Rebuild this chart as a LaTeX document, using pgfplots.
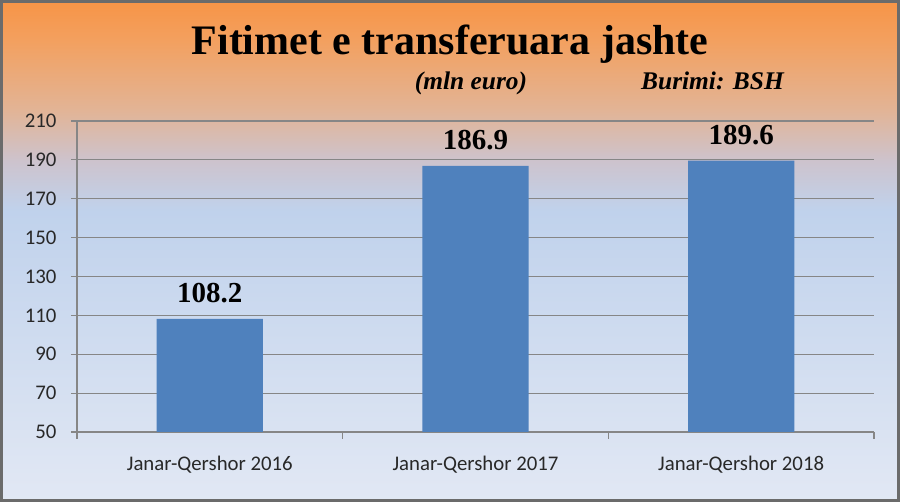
\documentclass[border=0pt]{standalone}
\usepackage{fontspec}
\setmainfont{Liberation Serif}
\newfontfamily\calibri{Carlito}
\usepackage{pgfplots}
\pgfplotsset{compat=1.18}
\definecolor{barblue}{RGB}{79,129,189}
\definecolor{gridgray}{RGB}{134,134,134}
\definecolor{labelgray}{RGB}{40,40,40}
\definecolor{c0}{RGB}{226,232,244}
\definecolor{c1}{RGB}{192,210,236}
\definecolor{c2}{RGB}{205,195,205}
\definecolor{c3}{RGB}{226,180,150}
\definecolor{c4}{RGB}{243,160,95}
\definecolor{c5}{RGB}{247,148,70}
\pgfdeclareverticalshading{bgshade}{100bp}{color(0bp)=(c0); color(25bp)=(c0); color(54bp)=(c1); color(59bp)=(c2); color(64bp)=(c3); color(71bp)=(c4); color(75bp)=(c5); color(100bp)=(c5)}
\begin{document}
\begin{tikzpicture}
\shade[shading=bgshade] (0,0) rectangle (450pt,251pt);
\draw[gridgray!80!black, line width=1.5pt] (0.75pt,0.75pt) rectangle (449.25pt,250.25pt);
\node[anchor=base, inner sep=0pt] at (225pt,223.5pt) {\bfseries\fontsize{21}{24}\selectfont Fitimet e transferuara jashte};
\node[anchor=base, inner sep=0pt] at (235.5pt,206pt) {\bfseries\itshape\fontsize{12.7}{14}\selectfont (mln euro)};
\node[anchor=base, inner sep=0pt] at (356.25pt,206.25pt) {\bfseries\itshape\fontsize{12.7}{14}\selectfont Burimi: BSH};
\begin{axis}[
  at={(38.5pt,35pt)}, anchor=south west,
  scale only axis, width=398.5pt, height=155.5pt,
  xmin=-0.5, xmax=2.5, ymin=50, ymax=210,
  ytick={50,70,...,210},
  xtick={0,1,2},
  xticklabels={Janar-Qershor 2016,Janar-Qershor 2017,Janar-Qershor 2018},
  minor xtick={-0.5,0.5,1.5,2.5},
  axis x line*=bottom, axis y line*=left,
  ymajorgrids, grid style={gridgray, line width=0.6pt},
  axis line style={gridgray, line width=0.6pt, -},
  tick style={gridgray, line width=0.6pt},
  tick align=outside,
  major tick length=2.75pt, minor tick length=3.5pt,
  major x tick style={draw=none},
  /pgf/number format/assume math mode=true,
  ticklabel style={font=\calibri\fontsize{10.4}{12}\selectfont, text=labelgray},
  xticklabel style={yshift=-5.5pt},
  yticklabel style={xshift=-4pt},
]
\addplot[ybar, fill=barblue, draw=none, bar width=0.4,
  nodes near coords={\pgfmathprintnumber[fixed,fixed zerofill,precision=1]{\pgfplotspointmeta}},
  nodes near coords style={font=\bfseries\fontsize{14.5}{16}\selectfont, text=black, anchor=base, yshift=8pt}]
  coordinates {(0,108.2) (1,186.9) (2,189.6)};
\end{axis}
\end{tikzpicture}
\end{document}
